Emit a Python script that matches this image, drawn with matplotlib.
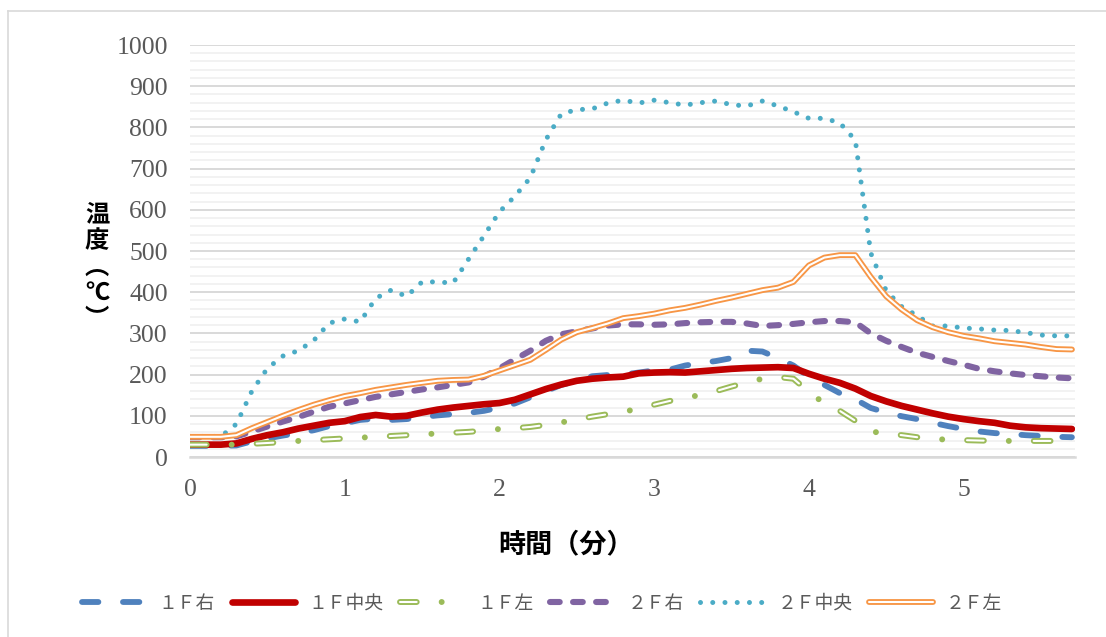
import matplotlib.pyplot as plt
import numpy as np

plt.rcParams['lines.scale_dashes'] = False

TIME = [0.0, 0.1, 0.2, 0.3, 0.4, 0.5, 0.6, 0.7, 0.8, 0.9,
        1.0, 1.1, 1.2, 1.3, 1.4, 1.5, 1.6, 1.7, 1.8, 1.9,
        2.0, 2.1, 2.2, 2.3, 2.4, 2.5, 2.6, 2.7, 2.8, 2.9,
        3.0, 3.1, 3.2, 3.3, 3.4, 3.5, 3.6, 3.7, 3.8, 3.9,
        4.0, 4.1, 4.2, 4.3, 4.4, 4.5, 4.6, 4.7, 4.8, 4.9,
        5.0, 5.1, 5.2, 5.3, 5.4, 5.5, 5.6, 5.7]

F1_RIGHT = [27, 27, 27, 28, 38, 45, 52, 58, 65, 75,
            82, 90, 93, 90, 92, 97, 101, 104, 107, 112,
            120, 130, 145, 160, 175, 185, 196, 199, 200, 205,
            210, 212, 222, 228, 233, 240, 258, 256, 240, 222,
            195, 175, 155, 140, 119, 108, 99, 92, 83, 75,
            68, 62, 58, 56, 53, 51, 49, 48]
F1_CENTER = [30, 30, 30, 33, 44, 53, 60, 69, 76, 83,
             87, 97, 102, 98, 100, 108, 115, 120, 124, 128,
             131, 139, 152, 165, 176, 185, 190, 193, 195, 203,
             205, 206, 205, 208, 211, 214, 216, 217, 218, 216,
             202, 190, 180, 166, 148, 135, 124, 115, 106, 98,
             92, 87, 83, 76, 72, 70, 69, 68]
F1_LEFT = [30, 30, 30, 30, 32, 34, 36, 39, 41, 43,
           45, 47, 49, 51, 53, 55, 57, 59, 61, 64,
           68, 70, 73, 78, 84, 91, 98, 104, 110, 117,
           127, 136, 143, 151, 160, 171, 181, 190, 194, 190,
           158, 130, 112, 88, 62, 57, 53, 48, 44, 42,
           41, 40, 39, 39, 39, 39, 39, 39]
F2_RIGHT = [48, 48, 48, 50, 62, 74, 86, 97, 110, 122,
            130, 138, 146, 152, 158, 164, 169, 175, 181, 195,
            215, 237, 258, 282, 298, 305, 312, 319, 322, 322,
            321, 322, 325, 327, 328, 328, 324, 318, 320, 323,
            327, 330, 330, 327, 300, 282, 267, 253, 243, 233,
            224, 214, 208, 203, 199, 196, 193, 191]
F2_CENTER = [50, 50, 50, 80, 160, 215, 245, 258, 283, 325,
             335, 328, 385, 405, 390, 425, 425, 422, 480, 537,
             595, 633, 678, 770, 833, 843, 845, 859, 866, 859,
             866, 860, 854, 860, 864, 855, 852, 864, 852, 838,
             822, 822, 811, 769, 495, 403, 365, 343, 318, 318,
             313, 311, 308, 307, 302, 296, 294, 294]
F2_LEFT = [49, 49, 49, 53, 70, 85, 100, 114, 127, 138,
           148, 155, 163, 169, 175, 180, 185, 187, 188, 197,
           210, 223, 236, 260, 285, 303, 313, 324, 337, 342,
           348, 356, 362, 370, 379, 387, 396, 405, 411, 425,
           465, 484, 490, 490, 437, 390, 358, 332, 315, 303,
           294, 288, 281, 277, 273, 267, 262, 261]

LABELS = ['１Ｆ右', '１Ｆ中央', '１Ｆ左', '２Ｆ右', '２Ｆ中央', '２Ｆ左']
SERIES = [F1_RIGHT, F1_CENTER, F1_LEFT, F2_RIGHT, F2_CENTER, F2_LEFT]

# each series is one or two stacked strokes (outer line, white core for double lines)
STYLES = [
    [dict(color='#4f81bd', lw=4.2, dashes=(11.8, 17.7))],
    [dict(color='#c00000', lw=4.8)],
    [dict(color='#9bbb59', lw=4.3, dashes=(12.0, 18.0, 0.01, 18.0)),
     dict(color='white', lw=1.5, dashes=(12.0, 36.0))],
    [dict(color='#8064a2', lw=4.4, dashes=(7.0, 9.6))],
    [dict(color='#4bacc6', lw=3.6, dashes=(0.01, 8.8))],
    [dict(color='#f79646', lw=4.2),
     dict(color='white', lw=1.5)],
]

fig = plt.figure(figsize=(11.06, 6.37), dpi=100)
W, H = 1106, 637
ax = fig.add_axes([190 / W, 1 - 457 / H, 885 / W, 412 / H])

handles = []
for values, layers in zip(SERIES, STYLES):
    drawn = []
    for style in layers:
        line, = ax.plot(TIME, values, solid_capstyle='round', dash_capstyle='round',
                        solid_joinstyle='round', dash_joinstyle='round', **style)
        drawn.append(line)
    handles.append(tuple(drawn))

ax.set_xlim(0, 5.72)
ax.set_ylim(0, 1000)
ax.set_xticks([0, 1, 2, 3, 4, 5])
ax.set_yticks(np.arange(0, 1001, 100))
ax.set_yticks(np.arange(0, 1001, 20), minor=True)
ax.grid(which='major', axis='y', color='#d9d9d9', lw=1.4)
ax.grid(which='minor', axis='y', color='#f2f2f2', lw=1.4)
ax.set_axisbelow(True)
for side in ['top', 'right', 'left']:
    ax.spines[side].set_visible(False)
ax.spines['bottom'].set_color('#d9d9d9')
ax.spines['bottom'].set_linewidth(1.8)
ax.tick_params(which='both', length=0, labelsize=18.5, labelcolor='#595959')
ax.tick_params(axis='y', pad=16)
ax.tick_params(axis='x', pad=16)
for lab in ax.get_xticklabels() + ax.get_yticklabels():
    lab.set_fontfamily('Liberation Serif')

cjk = 'Noto Sans CJK JP'
fig.text(566 / W, 1 - 544 / H, '時間（分）', family=cjk, fontsize=19.5,
         weight='bold', ha='center', va='center')

# vertical axis title written top to bottom, with vertical-form brackets
fig.text(97 / W, 1 - 267 / H, '温\n度\n︵\n℃\n︶', family=cjk, fontsize=17.5,
         weight='bold', ha='center', va='center', ma='center', linespacing=1.12)

fig.legend(handles, LABELS, loc='center', bbox_to_anchor=(542 / W, 1 - 603 / H),
           ncol=6, frameon=False, handlelength=3.4, handletextpad=0.7,
           columnspacing=0.9, prop={'family': cjk, 'size': 13.5},
           labelcolor='#595959')

# chart area outline
fig.add_artist(plt.Line2D([8 / W, 8 / W], [0, 1 - 11 / H], color='#d9d9d9', lw=1.2,
                          transform=fig.transFigure))
fig.add_artist(plt.Line2D([8 / W, 1], [1 - 11 / H, 1 - 11 / H], color='#d9d9d9', lw=1.2,
                          transform=fig.transFigure))

fig.savefig('out.png', dpi=100)
